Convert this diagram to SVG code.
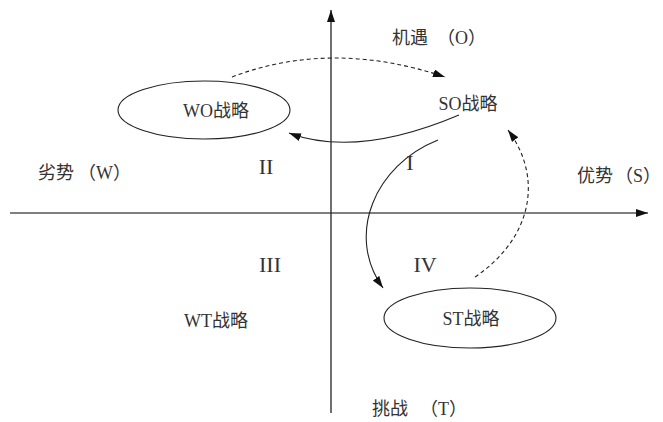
<svg xmlns="http://www.w3.org/2000/svg" width="663" height="422" viewBox="0 0 663 422">
<style>
text{font-family:"Liberation Serif","Noto Sans CJK SC",serif;fill:#333;font-size:18px;}
.e{text-anchor:end;}
.m{text-anchor:middle;}
.rn{font-size:22px;}
.ax{stroke:#222;stroke-width:1.3;fill:none;}
.ax2{stroke:#555;stroke-width:1.5;fill:none;}
.cv{stroke:#222;stroke-width:1.1;fill:none;}
.ds{stroke-dasharray:4,3;}
.el{fill:none;stroke:#222;stroke-width:1.1;}
</style>
<defs>
<marker id="ah" viewBox="0 0 12 8" refX="12" refY="4" markerWidth="12" markerHeight="8" markerUnits="userSpaceOnUse" orient="auto">
<path d="M0,0 L12,4 L0,8 Z" fill="#111"/>
</marker>
</defs>
<g id="connectors">
<line class="ax2" x1="10" y1="213" x2="648" y2="213" marker-end="url(#ah)"/>
<line class="ax" x1="331" y1="413" x2="331" y2="10" marker-end="url(#ah)"/>
<path class="cv ds" d="M232,77 Q332,39 445,77" marker-end="url(#ah)"/>
<path class="cv" d="M459,115 C400,140 340,152 289,133" marker-end="url(#ah)"/>
<path class="cv" d="M438,140 C375,165 345,235 383,288" marker-end="url(#ah)"/>
<path class="cv ds" d="M475,277 C530,240 545,180 508,130" marker-end="url(#ah)"/>
</g>
<g id="wo">
<ellipse class="el" cx="204" cy="110" rx="86" ry="29"/>
<text class="m" x="216" y="117">WO战略</text>
</g>
<g id="so"><text class="m" x="468" y="110">SO战略</text></g>
<g id="st">
<ellipse class="el" cx="470" cy="318" rx="86" ry="30"/>
<text class="m" x="471" y="325">ST战略</text>
</g>
<g id="wt"><text class="m" x="216" y="327">WT战略</text></g>
<g id="labels">
<text x="392" y="44">机遇</text><text class="e" x="486" y="44">（O）</text>
<text x="38" y="179">劣势</text><text class="e" x="131" y="179">（W）</text>
<text x="577" y="182">优势</text><text class="e" x="661" y="182">（S）</text>
<text x="372" y="415">挑战</text><text class="e" x="467" y="415">（T）</text>
<text class="rn" x="266" y="174" text-anchor="middle">II</text>
<text class="rn" x="410" y="170" text-anchor="middle">I</text>
<text class="rn" x="270" y="272" text-anchor="middle">III</text>
<text class="rn" x="425" y="272" text-anchor="middle">IV</text>
</g>
</svg>
